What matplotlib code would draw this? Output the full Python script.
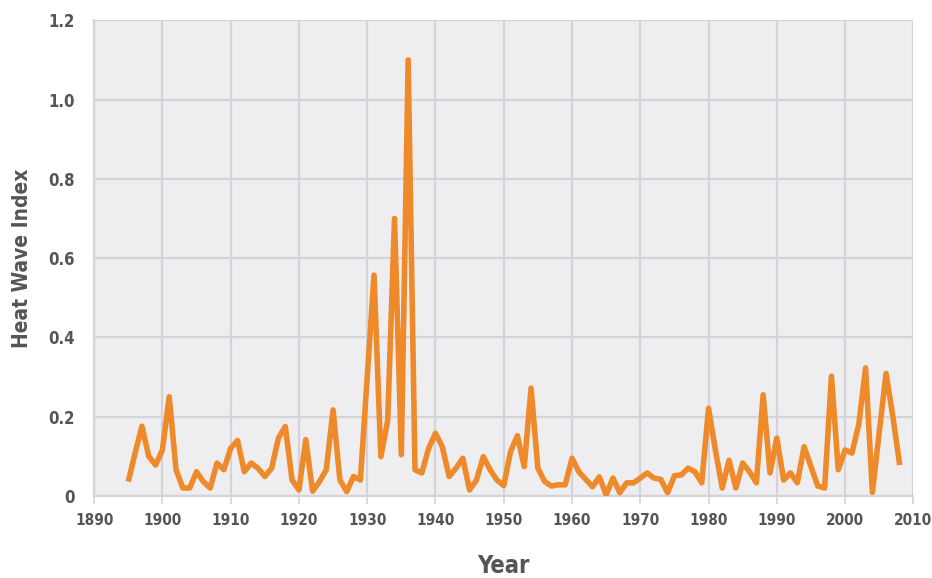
import matplotlib
matplotlib.use('Agg')
import matplotlib.pyplot as plt
from matplotlib import font_manager

# heat wave index, 1895-2008
years = list(range(1895, 2009))
heat_wave_index = [
    0.036, 0.108, 0.176, 0.100, 0.078, 0.116, 0.250, 0.066, 0.020, 0.020,  # 1895-1904
    0.061, 0.036, 0.020, 0.083, 0.066, 0.120, 0.140, 0.061, 0.083, 0.070,  # 1905-1914
    0.049, 0.070, 0.146, 0.175, 0.040, 0.015, 0.142, 0.012, 0.036, 0.066,  # 1915-1924
    0.217, 0.040, 0.011, 0.049, 0.040, 0.300, 0.557, 0.099, 0.190, 0.700,  # 1925-1934
    0.104, 1.100, 0.066, 0.058, 0.120, 0.158, 0.124, 0.049, 0.070, 0.095,  # 1935-1944
    0.015, 0.040, 0.099, 0.066, 0.040, 0.026, 0.112, 0.152, 0.074, 0.272,  # 1945-1954
    0.070, 0.036, 0.025, 0.028, 0.028, 0.095, 0.061, 0.042, 0.023, 0.048,  # 1955-1964
    0.003, 0.045, 0.008, 0.033, 0.033, 0.045, 0.058, 0.045, 0.042, 0.008,  # 1965-1974
    0.051, 0.053, 0.070, 0.061, 0.033, 0.221, 0.116, 0.020, 0.090, 0.020,  # 1975-1984
    0.083, 0.061, 0.033, 0.255, 0.058, 0.146, 0.040, 0.058, 0.033, 0.124,  # 1985-1994
    0.074, 0.025, 0.020, 0.302, 0.066, 0.116, 0.108, 0.180, 0.323, 0.009,  # 1995-2004
    0.160, 0.309, 0.200, 0.078,                                              # 2005-2008
]

x_ticks = list(range(1890, 2011, 10))
y_ticks = [0, 0.2, 0.4, 0.6, 0.8, 1.0, 1.2]
y_tick_labels = ['0', '0.2', '0.4', '0.6', '0.8', '1.0', '1.2']


def narrow_bold_font():
    # look for any installed condensed / narrow bold face, else a plain bold one
    for f in font_manager.fontManager.ttflist:
        narrow = ('Narrow' in f.name or 'Condensed' in f.name
                  or 'condensed' in str(f.stretch))
        bold = f.weight in ('bold', 700, 'heavy', 800)
        if narrow and bold:
            return font_manager.FontProperties(fname=f.fname)
    for f in font_manager.fontManager.ttflist:
        if f.name == 'Roboto' and f.weight in ('bold', 700) and f.style == 'normal':
            return font_manager.FontProperties(fname=f.fname)
    return font_manager.FontProperties(family='DejaVu Sans', weight='bold')


fp = narrow_bold_font()

text_color = '#555458'
grid_color = '#D4D4D8'

fig = plt.figure(figsize=(9.32, 5.78), dpi=100)
ax = fig.add_axes([0.101, 0.142, 0.879, 0.823])
ax.set_facecolor('#EEEDF0')

ax.plot(years, heat_wave_index, color='#EF8A2B', linewidth=4.0,
        solid_joinstyle='round', solid_capstyle='butt', zorder=3)

ax.set_xlim(1890, 2010)
ax.set_ylim(0, 1.2)
ax.set_xticks(x_ticks)
ax.set_yticks(y_ticks)
ax.set_yticklabels(y_tick_labels)
ax.grid(True, color=grid_color, linewidth=1.6, zorder=0)

for side in ['top', 'right']:
    ax.spines[side].set_visible(False)
for side in ['left', 'bottom']:
    ax.spines[side].set_color(grid_color)
    ax.spines[side].set_linewidth(1.6)

ax.tick_params(axis='x', colors=text_color, length=6, width=1.2, color=grid_color, pad=6)
ax.tick_params(axis='y', colors=text_color, length=0, pad=14)
for lbl in ax.get_xticklabels():
    lbl.set_fontproperties(fp)
    lbl.set_fontsize(11)
for lbl in ax.get_yticklabels():
    lbl.set_fontproperties(fp)
    lbl.set_fontsize(12)

ax.set_xlabel('Year', fontproperties=fp, fontsize=17, color=text_color, labelpad=19)
ax.set_ylabel('Heat Wave Index', fontproperties=fp, fontsize=15, color=text_color, labelpad=12)

plt.savefig('out.png', dpi=100)
